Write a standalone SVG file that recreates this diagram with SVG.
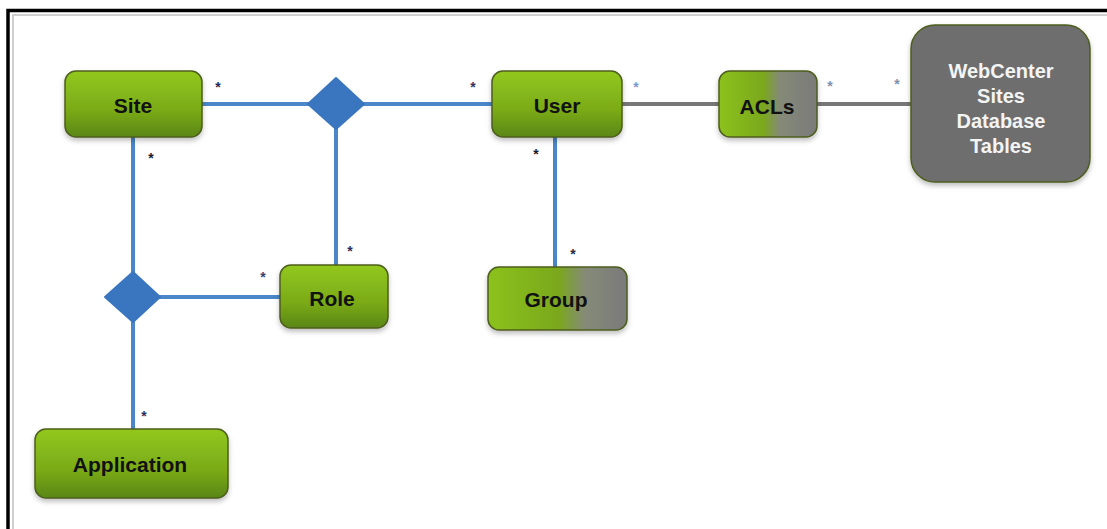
<svg xmlns="http://www.w3.org/2000/svg" width="1107" height="529" viewBox="0 0 1107 529">
<style>
.lbl{font-family:"Liberation Sans",Arial,sans-serif;font-weight:bold;font-size:21px;fill:#111;text-anchor:middle;dominant-baseline:central}
.db{font-family:"Liberation Sans",Arial,sans-serif;font-weight:bold;font-size:20px;fill:#f4f4f4;text-anchor:middle;dominant-baseline:central}
.star{font-family:"Liberation Sans",Arial,sans-serif;font-weight:bold;font-size:14px;text-anchor:middle}
.blue{stroke:#4a86c8;stroke-width:4;fill:none}
.gray{stroke:#777;stroke-width:4;fill:none}
.node{stroke:#4d5e1e;stroke-width:1.5;filter:url(#sh)}
.dia{fill:#3a76c0;stroke:#3a76c0;stroke-width:2;stroke-linejoin:round}
</style>
<defs>
<linearGradient id="green" x1="0" y1="0" x2="0" y2="1">
<stop offset="0" stop-color="#92c81e"/>
<stop offset="0.6" stop-color="#7aaa18"/>
<stop offset="1" stop-color="#5a8612"/>
</linearGradient>
<linearGradient id="acl" x1="0" y1="0" x2="1" y2="0">
<stop offset="0" stop-color="#8cc21c"/>
<stop offset="0.45" stop-color="#7aa81a"/>
<stop offset="0.62" stop-color="#858a78"/>
<stop offset="1" stop-color="#7a7a7a"/>
</linearGradient>
<linearGradient id="grp" x1="0" y1="0" x2="1" y2="0">
<stop offset="0" stop-color="#8cc21c"/>
<stop offset="0.5" stop-color="#7aa81a"/>
<stop offset="0.7" stop-color="#858a78"/>
<stop offset="1" stop-color="#7a7a7a"/>
</linearGradient>
<filter id="sh" x="-10%" y="-10%" width="120%" height="130%">
<feDropShadow dx="0" dy="3" stdDeviation="2.5" flood-color="#000" flood-opacity="0.25"/>
</filter>
</defs>
<rect width="1107" height="529" fill="#fff"/>
<!-- frame -->
<path d="M8 529 V10.5 H1107" fill="none" stroke="#000" stroke-width="3.5"/>
<path d="M13 529 V15 H1107" fill="none" stroke="#cfcfcf" stroke-width="2"/>

<g id="connectors">
<line class="blue" x1="201" y1="104" x2="492" y2="104"/>
<line class="blue" x1="133" y1="137" x2="133" y2="429"/>
<line class="blue" x1="336" y1="104" x2="336" y2="265"/>
<line class="blue" x1="133" y1="297" x2="280" y2="297"/>
<line class="blue" x1="555" y1="137" x2="555" y2="267"/>
<line class="gray" x1="622" y1="104" x2="719" y2="104"/>
<line class="gray" x1="817" y1="104" x2="911" y2="104"/>
<polygon class="dia" points="336,78 364,104 336,129 308,104"/>
<polygon class="dia" points="133,272 160,297 133,322 105,297"/>
<text class="star" x="218" y="92" fill="#1e2a55">*</text>
<text class="star" x="151" y="163" fill="#1a1a2a">*</text>
<text class="star" x="473" y="92" fill="#3a3060">*</text>
<text class="star" x="636" y="92" fill="#7a9ad0">*</text>
<text class="star" x="536" y="159" fill="#1a1a2a">*</text>
<text class="star" x="350" y="256" fill="#2a3060">*</text>
<text class="star" x="263" y="282" fill="#3a4070">*</text>
<text class="star" x="573" y="259" fill="#2a2a40">*</text>
<text class="star" x="144" y="421" fill="#2a3060">*</text>
<text class="star" x="830" y="91" fill="#8090b0">*</text>
<text class="star" x="897" y="89" fill="#8090b0">*</text>
</g>

<g id="site"><rect class="node" x="65" y="71" width="137" height="66" rx="11" fill="url(#green)"/><text class="lbl" x="133" y="105">Site</text></g>
<g id="user"><rect class="node" x="492" y="71" width="130" height="66" rx="11" fill="url(#green)"/><text class="lbl" x="557" y="105">User</text></g>
<g id="acls"><rect class="node" x="719" y="71" width="98" height="66" rx="11" fill="url(#acl)"/><text class="lbl" x="767" y="106">ACLs</text></g>
<g id="db"><rect class="node" x="911" y="25" width="179" height="157" rx="24" fill="#6e6e6e" stroke="#4d5a2a" stroke-width="2"/>
<text class="db" x="1001" y="71">WebCenter</text>
<text class="db" x="1001" y="96">Sites</text>
<text class="db" x="1001" y="121">Database</text>
<text class="db" x="1001" y="146">Tables</text></g>
<g id="role"><rect class="node" x="280" y="265" width="108" height="63" rx="11" fill="url(#green)"/><text class="lbl" x="332" y="298">Role</text></g>
<g id="group"><rect class="node" x="488" y="267" width="139" height="63" rx="11" fill="url(#grp)"/><text class="lbl" x="556" y="299">Group</text></g>
<g id="application"><rect class="node" x="35" y="429" width="193" height="69" rx="11" fill="url(#green)"/><text class="lbl" x="130" y="464">Application</text></g>
</svg>
